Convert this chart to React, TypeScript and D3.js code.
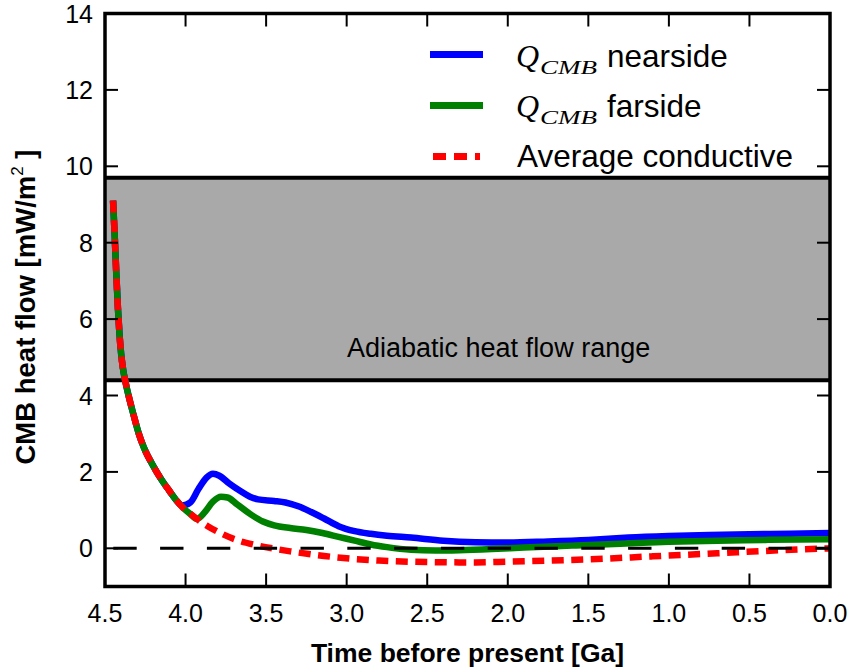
import React from "react";
import * as d3 from "d3";

// ---------- data ----------
const conductiveTime = [4.45, 4.44, 4.43, 4.42, 4.41, 4.4, 4.39, 4.37, 4.345, 4.32, 4.29, 4.26, 4.2, 4.15, 4.1, 4.06, 4.0, 3.97, 3.93, 3.87, 3.77, 3.67, 3.57, 3.45, 3.35, 3.14, 2.95, 2.8, 2.5, 2.2, 2.0, 1.5, 1.1, 0.7, 0.3, 0.0];
const conductiveValue = [9.1, 8.2, 7.2, 6.3, 5.6, 5.1, 4.75, 4.3, 3.85, 3.45, 3.0, 2.65, 2.15, 1.8, 1.5, 1.27, 1.0, 0.9, 0.77, 0.6, 0.37, 0.2, 0.09, -0.01, -0.08, -0.2, -0.28, -0.32, -0.36, -0.37, -0.35, -0.29, -0.21, -0.13, -0.05, 0.0];

const nearTime = [4.45, 4.44, 4.43, 4.42, 4.41, 4.4, 4.39, 4.37, 4.345, 4.32, 4.29, 4.26, 4.2, 4.15, 4.1, 4.06, 4.02, 3.97, 3.92, 3.87, 3.83, 3.79, 3.73, 3.66, 3.6, 3.55, 3.45, 3.38, 3.3, 3.22, 3.14, 3.05, 2.95, 2.85, 2.75, 2.6, 2.4, 2.2, 2.0, 1.75, 1.5, 1.25, 1.0, 0.75, 0.5, 0.25, 0.0];
const nearValue = [9.1, 8.2, 7.2, 6.3, 5.6, 5.1, 4.75, 4.3, 3.85, 3.45, 3.0, 2.65, 2.15, 1.8, 1.5, 1.27, 1.12, 1.2, 1.55, 1.85, 1.95, 1.9, 1.7, 1.5, 1.35, 1.28, 1.24, 1.2, 1.1, 0.95, 0.78, 0.58, 0.45, 0.38, 0.33, 0.28, 0.2, 0.16, 0.15, 0.18, 0.22, 0.28, 0.32, 0.35, 0.37, 0.38, 0.4];

const farTime = [4.45, 4.44, 4.43, 4.42, 4.41, 4.4, 4.39, 4.37, 4.345, 4.32, 4.29, 4.26, 4.2, 4.15, 4.1, 4.06, 4.0, 3.97, 3.93, 3.88, 3.83, 3.78, 3.74, 3.68, 3.6, 3.52, 3.45, 3.35, 3.25, 3.15, 3.05, 2.95, 2.85, 2.75, 2.6, 2.45, 2.3, 2.1, 1.9, 1.6, 1.3, 1.0, 0.7, 0.4, 0.0];
const farValue = [9.1, 8.2, 7.2, 6.3, 5.6, 5.1, 4.75, 4.3, 3.85, 3.45, 3.0, 2.65, 2.15, 1.8, 1.5, 1.27, 1.0, 0.9, 0.77, 0.95, 1.22, 1.35, 1.33, 1.15, 0.9, 0.7, 0.6, 0.53, 0.48, 0.4, 0.3, 0.2, 0.1, 0.03, -0.04, -0.06, -0.05, -0.02, 0.02, 0.07, 0.12, 0.17, 0.2, 0.22, 0.24];

const adiabaticRange = [4.4, 9.7];
const xTicks = [4.5, 4.0, 3.5, 3.0, 2.5, 2.0, 1.5, 1.0, 0.5, 0.0];
const yTicks = [0, 2, 4, 6, 8, 10, 12, 14];
const xDomain = [4.5, 0.0];
const yDomain = [-1, 14];

const legendLabels = ["nearside", "farside", "Average conductive"];

// ---------- layout ----------
const W = 851, H = 671;
const L = 105, R = 830, T = 13.5, B = 586.5;
const SANS = "'Liberation Sans', Arial, sans-serif";
const SERIF = "'Liberation Serif', 'DejaVu Serif', serif";

export default function App() {
  const x = d3.scaleLinear().domain(xDomain).range([L, R]);
  const y = d3.scaleLinear().domain(yDomain).range([B, T]);
  const line = d3
    .line<[number, number]>()
    .x((d) => x(d[0]))
    .y((d) => y(d[1]))
    .curve(d3.curveMonotoneX);
  const zip = (t: number[], v: number[]) => t.map((tt, i) => [tt, v[i]] as [number, number]);

  const nearPath = line(zip(nearTime, nearValue)) || "";
  const farPath = line(zip(farTime, farValue)) || "";
  const condPath = line(zip(conductiveTime, conductiveValue)) || "";

  const tickLen = 13;
  const legendX0 = 430, legendX1 = 483;
  const legendRows = [54.5, 105.5, 156.5];
  const legendBase = [66.7, 116.7, 166.7];

  return (
    <svg
      width={W}
      height={H}
      style={{ position: "absolute", left: 0, top: 0, display: "block", background: "#fff" }}
    >
      <rect x={0} y={0} width={W} height={H} fill="#fff" />
      {/* adiabatic band */}
      <rect
        x={L}
        y={y(adiabaticRange[1])}
        width={R - L}
        height={y(adiabaticRange[0]) - y(adiabaticRange[1])}
        fill="#a9a9a9"
      />
      <line x1={L} x2={R} y1={y(adiabaticRange[1])} y2={y(adiabaticRange[1])} stroke="#000" strokeWidth={4} />
      <line x1={L} x2={R} y1={y(adiabaticRange[0])} y2={y(adiabaticRange[0])} stroke="#000" strokeWidth={4} />
      <text x={347} y={357} fontFamily={SANS} fontSize={27} fill="#000">
        Adiabatic heat flow range
      </text>

      {/* curves */}
      <path d={nearPath} fill="none" stroke="#0000ff" strokeWidth={6.5} strokeLinejoin="round" />
      <path d={farPath} fill="none" stroke="#008000" strokeWidth={6.5} strokeLinejoin="round" />
      <path d={condPath} fill="none" stroke="#ff0000" strokeWidth={6.5} strokeDasharray="12 7.5" />

      {/* zero line */}
      <line
        x1={L}
        x2={R}
        y1={y(0)}
        y2={y(0)}
        stroke="#000"
        strokeWidth={3}
        strokeDasharray="23.4 23.4"
        strokeDashoffset={38.5}
      />

      {/* ticks */}
      {xTicks.map((t) => (
        <g key={"xt" + t}>
          <line x1={x(t)} x2={x(t)} y1={B} y2={B - tickLen} stroke="#000" strokeWidth={2} />
          <line x1={x(t)} x2={x(t)} y1={T} y2={T + tickLen} stroke="#000" strokeWidth={2} />
          <text x={x(t)} y={622} textAnchor="middle" fontFamily={SANS} fontSize={25} fill="#000">
            {t.toFixed(1)}
          </text>
        </g>
      ))}
      {yTicks.map((v) => (
        <g key={"yt" + v}>
          <line x1={L} x2={L + tickLen} y1={y(v)} y2={y(v)} stroke="#000" strokeWidth={2} />
          <line x1={R} x2={R - tickLen} y1={y(v)} y2={y(v)} stroke="#000" strokeWidth={2} />
          <text x={93} y={y(v) + 9} textAnchor="end" fontFamily={SANS} fontSize={25} fill="#000">
            {v}
          </text>
        </g>
      ))}

      {/* frame */}
      <rect x={L} y={T} width={R - L} height={B - T} fill="none" stroke="#000" strokeWidth={3.5} />

      {/* axis labels */}
      <text x={(L + R) / 2} y={662} textAnchor="middle" fontFamily={SANS} fontWeight="bold" fontSize={26.5} fill="#000">
        Time before present [Ga]
      </text>
      <text
        transform={`translate(35,307) rotate(-90)`}
        textAnchor="middle"
        fontFamily={SANS}
        fontWeight="bold"
        fontSize={27.5}
        fill="#000"
      >
        CMB heat flow [mW/m
        <tspan fontSize={17} fontWeight="normal" dy={-12}>2</tspan>
        <tspan dy={12}> ]</tspan>
      </text>

      {/* legend */}
      <line x1={legendX0} x2={legendX1} y1={legendRows[0]} y2={legendRows[0]} stroke="#0000ff" strokeWidth={7} />
      <line x1={legendX0} x2={legendX1} y1={legendRows[1]} y2={legendRows[1]} stroke="#008000" strokeWidth={7} />
      <line
        x1={legendX0 + 3}
        x2={legendX1 - 3}
        y1={legendRows[2]}
        y2={legendRows[2]}
        stroke="#ff0000"
        strokeWidth={7}
        strokeDasharray="13 8"
      />
      {[0, 1].map((i) => (
        <g key={"lq" + i}>
          <text x={516} y={legendBase[i]} fontFamily={SERIF} fontStyle="italic" fontSize={32} fill="#000">
            Q
          </text>
          <text
            x={540}
            y={legendBase[i] + 7}
            fontFamily={SERIF}
            fontStyle="italic"
            fontSize={19}
            fill="#000"
            textLength={57}
            lengthAdjust="spacingAndGlyphs"
          >
            CMB
          </text>
          <text x={607} y={legendBase[i]} fontFamily={SANS} fontSize={31.5} fill="#000">
            {legendLabels[i]}
          </text>
        </g>
      ))}
      <text x={517} y={legendBase[2]} fontFamily={SANS} fontSize={31.5} fill="#000">
        {legendLabels[2]}
      </text>
    </svg>
  );
}
